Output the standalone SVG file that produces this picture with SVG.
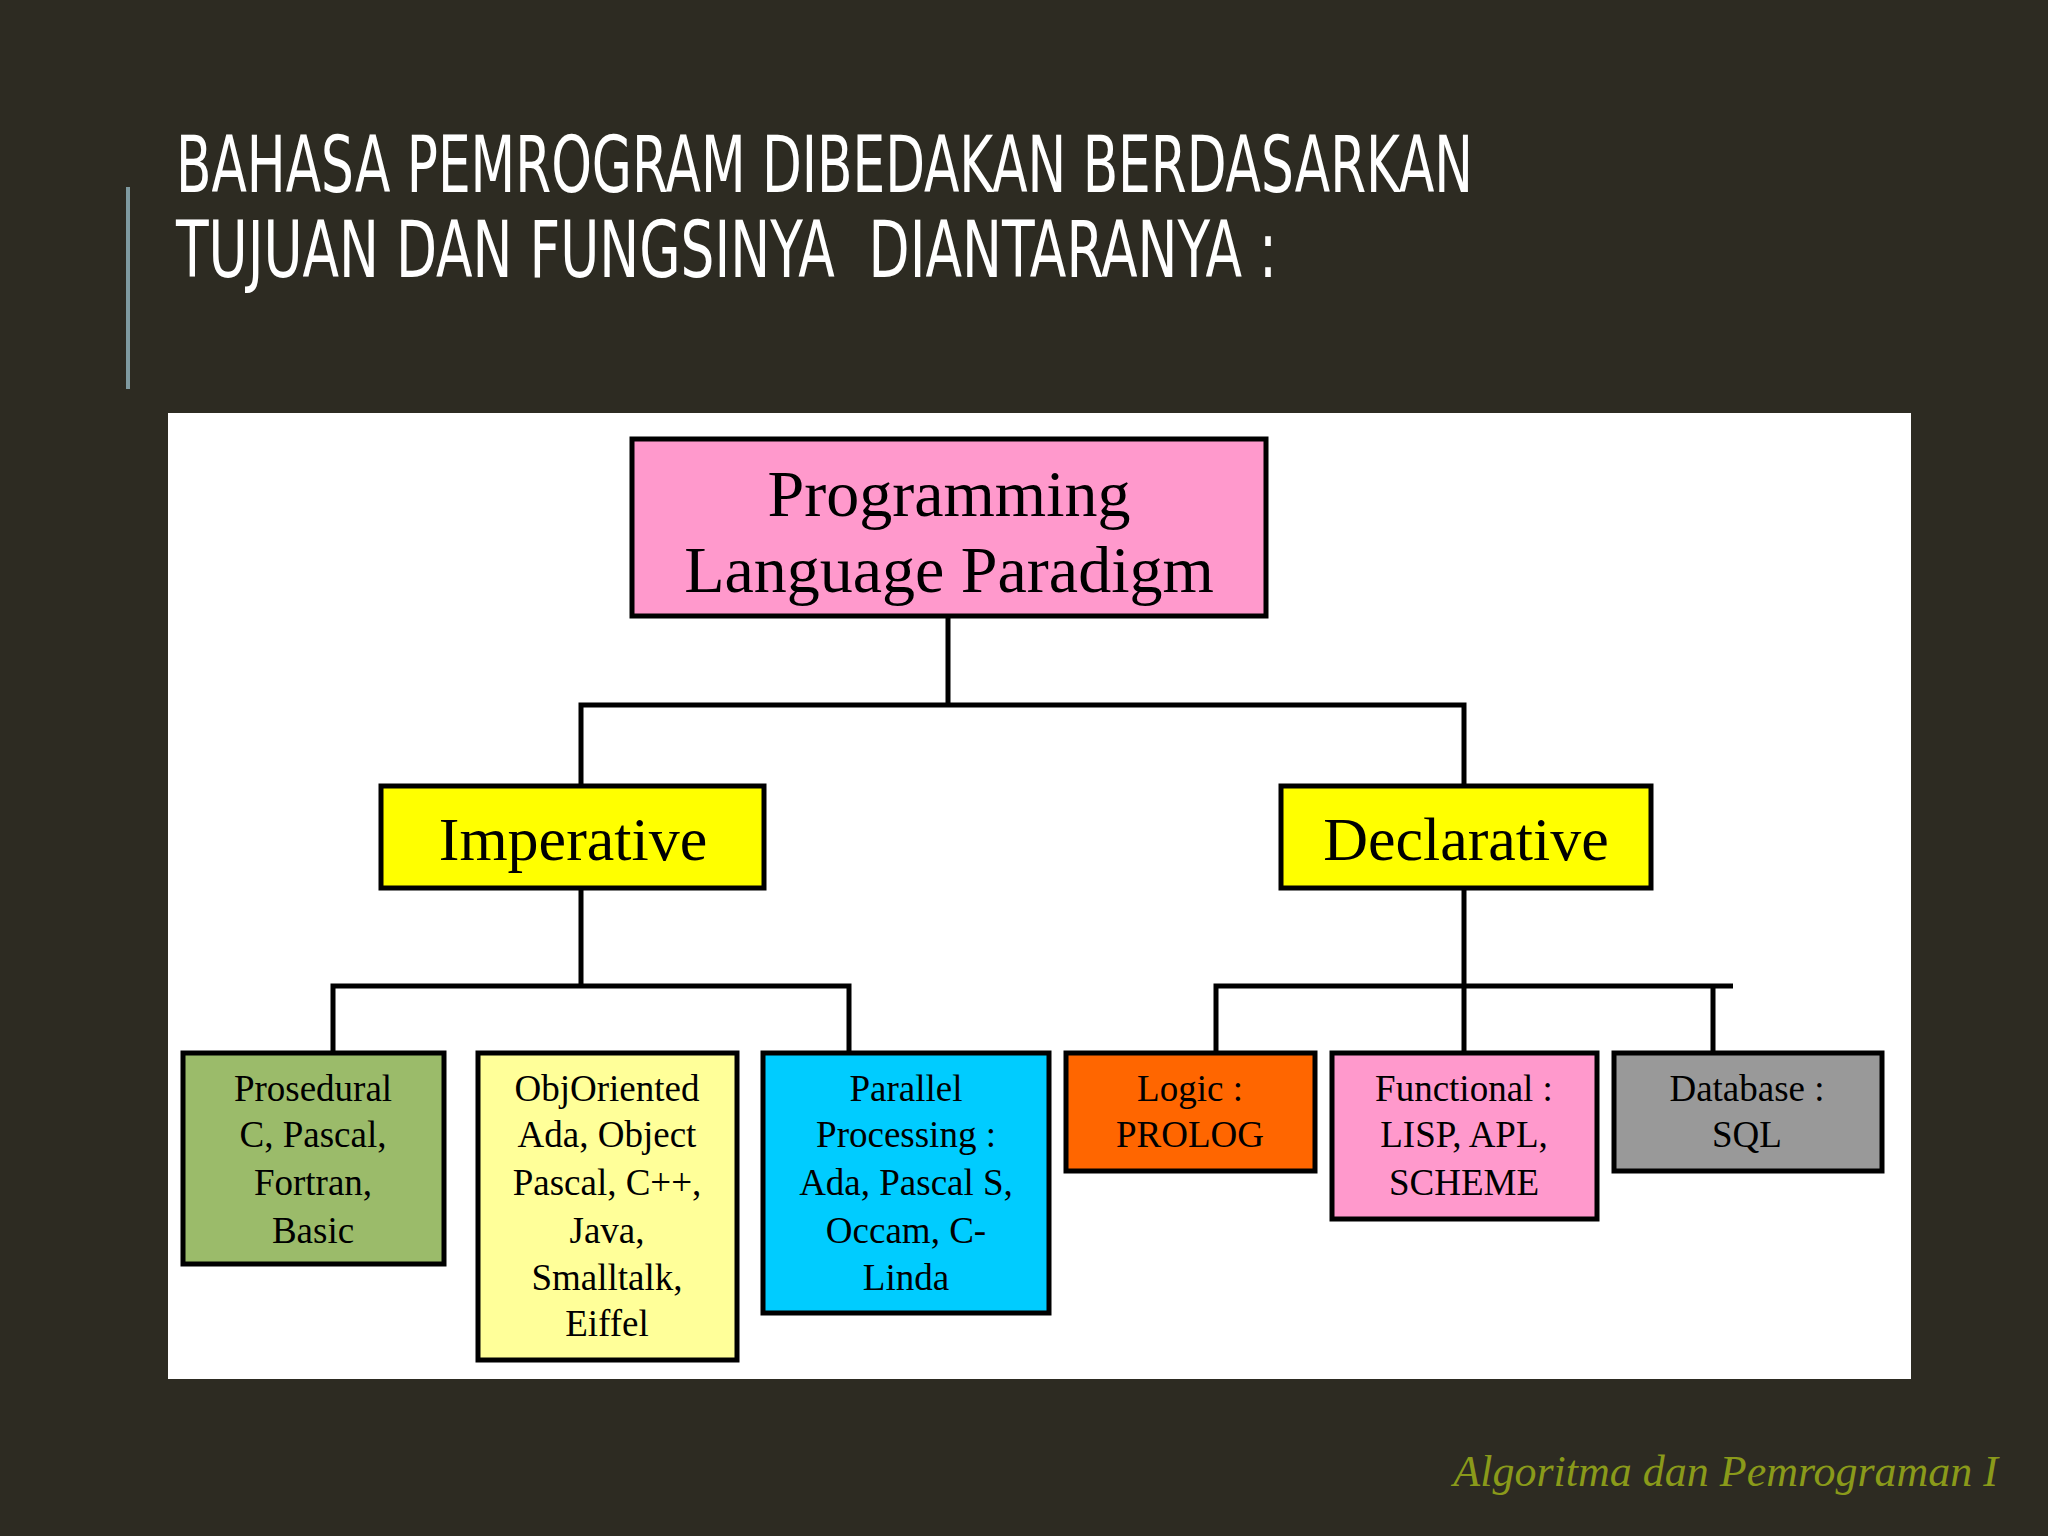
<svg xmlns="http://www.w3.org/2000/svg" width="2048" height="1536" viewBox="0 0 2048 1536">
<style>
.b{stroke:#000;stroke-width:5}
.c{stroke:#000;stroke-width:5;fill:none}
.t{font-family:"Liberation Serif",serif;fill:#000;text-anchor:middle}
.s{font-size:37px}
.h{font-family:"DejaVu Sans Condensed","DejaVu Sans",sans-serif;fill:#fff;font-size:78px}
</style>
<rect width="2048" height="1536" fill="#2d2b22"/>
<line x1="128" y1="187" x2="128" y2="389" stroke="#7f9aa0" stroke-width="4"/>
<text class="h" x="176" y="192" textLength="1297" lengthAdjust="spacingAndGlyphs">BAHASA PEMROGRAM DIBEDAKAN BERDASARKAN</text>
<text class="h" x="176" y="277" textLength="1101" lengthAdjust="spacingAndGlyphs" xml:space="preserve">TUJUAN DAN FUNGSINYA  DIANTARANYA :</text>
<rect x="168" y="413" width="1743" height="966" fill="#fff"/>
<g id="connectors">
<path class="c" d="M948 616V705M581 786V705H1464V786"/>
<path class="c" d="M581 888V986M333 1053V986H849V1053"/>
<path class="c" d="M1464 888V1073M1216 1053V986H1733M1713 986V1053"/>
</g>
<g id="root"><rect class="b" x="632" y="439" width="634" height="177" fill="#ff99cc"/>
<text class="t" x="949" y="516" font-size="66">Programming</text><text class="t" x="949" y="592" font-size="66">Language Paradigm</text></g>
<g id="imperative"><rect class="b" x="381" y="786" width="383" height="102" fill="#ffff00"/><text class="t" x="573" y="860" font-size="62">Imperative</text></g>
<g id="declarative"><rect class="b" x="1281" y="786" width="370" height="102" fill="#ffff00"/><text class="t" x="1466" y="860" font-size="62">Declarative</text></g>
<g id="prosedural"><rect class="b" x="183" y="1053" width="261" height="211" fill="#9bbb6a"/>
<text class="t s" x="313" y="1101">Prosedural</text><text class="t s" x="313" y="1147">C, Pascal,</text><text class="t s" x="313" y="1195">Fortran,</text><text class="t s" x="313" y="1243">Basic</text></g>
<g id="objoriented"><rect class="b" x="478" y="1053" width="259" height="307" fill="#ffff99"/>
<text class="t s" x="607" y="1101">ObjOriented</text><text class="t s" x="607" y="1147">Ada, Object</text><text class="t s" x="607" y="1195">Pascal, C++,</text><text class="t s" x="607" y="1243">Java,</text><text class="t s" x="607" y="1290">Smalltalk,</text><text class="t s" x="607" y="1336">Eiffel</text></g>
<g id="parallel"><rect class="b" x="763" y="1053" width="286" height="260" fill="#00ccff"/>
<text class="t s" x="906" y="1101">Parallel</text><text class="t s" x="906" y="1147">Processing :</text><text class="t s" x="906" y="1195">Ada, Pascal S,</text><text class="t s" x="906" y="1243">Occam, C-</text><text class="t s" x="906" y="1290">Linda</text></g>
<g id="logic"><rect class="b" x="1066" y="1053" width="249" height="118" fill="#ff6600"/>
<text class="t s" x="1190" y="1101">Logic :</text><text class="t s" x="1190" y="1147">PROLOG</text></g>
<g id="functional"><rect class="b" x="1332" y="1053" width="265" height="166" fill="#ff99cc"/>
<text class="t s" x="1464" y="1101">Functional :</text><text class="t s" x="1464" y="1147">LISP, APL,</text><text class="t s" x="1464" y="1195">SCHEME</text></g>
<g id="database"><rect class="b" x="1614" y="1053" width="268" height="118" fill="#999999"/>
<text class="t s" x="1747" y="1101">Database :</text><text class="t s" x="1747" y="1147">SQL</text></g>
<text x="1998" y="1486" text-anchor="end" font-family="Liberation Serif,serif" font-style="italic" font-size="44" fill="#8a9a1a">Algoritma dan Pemrograman I</text>
</svg>
